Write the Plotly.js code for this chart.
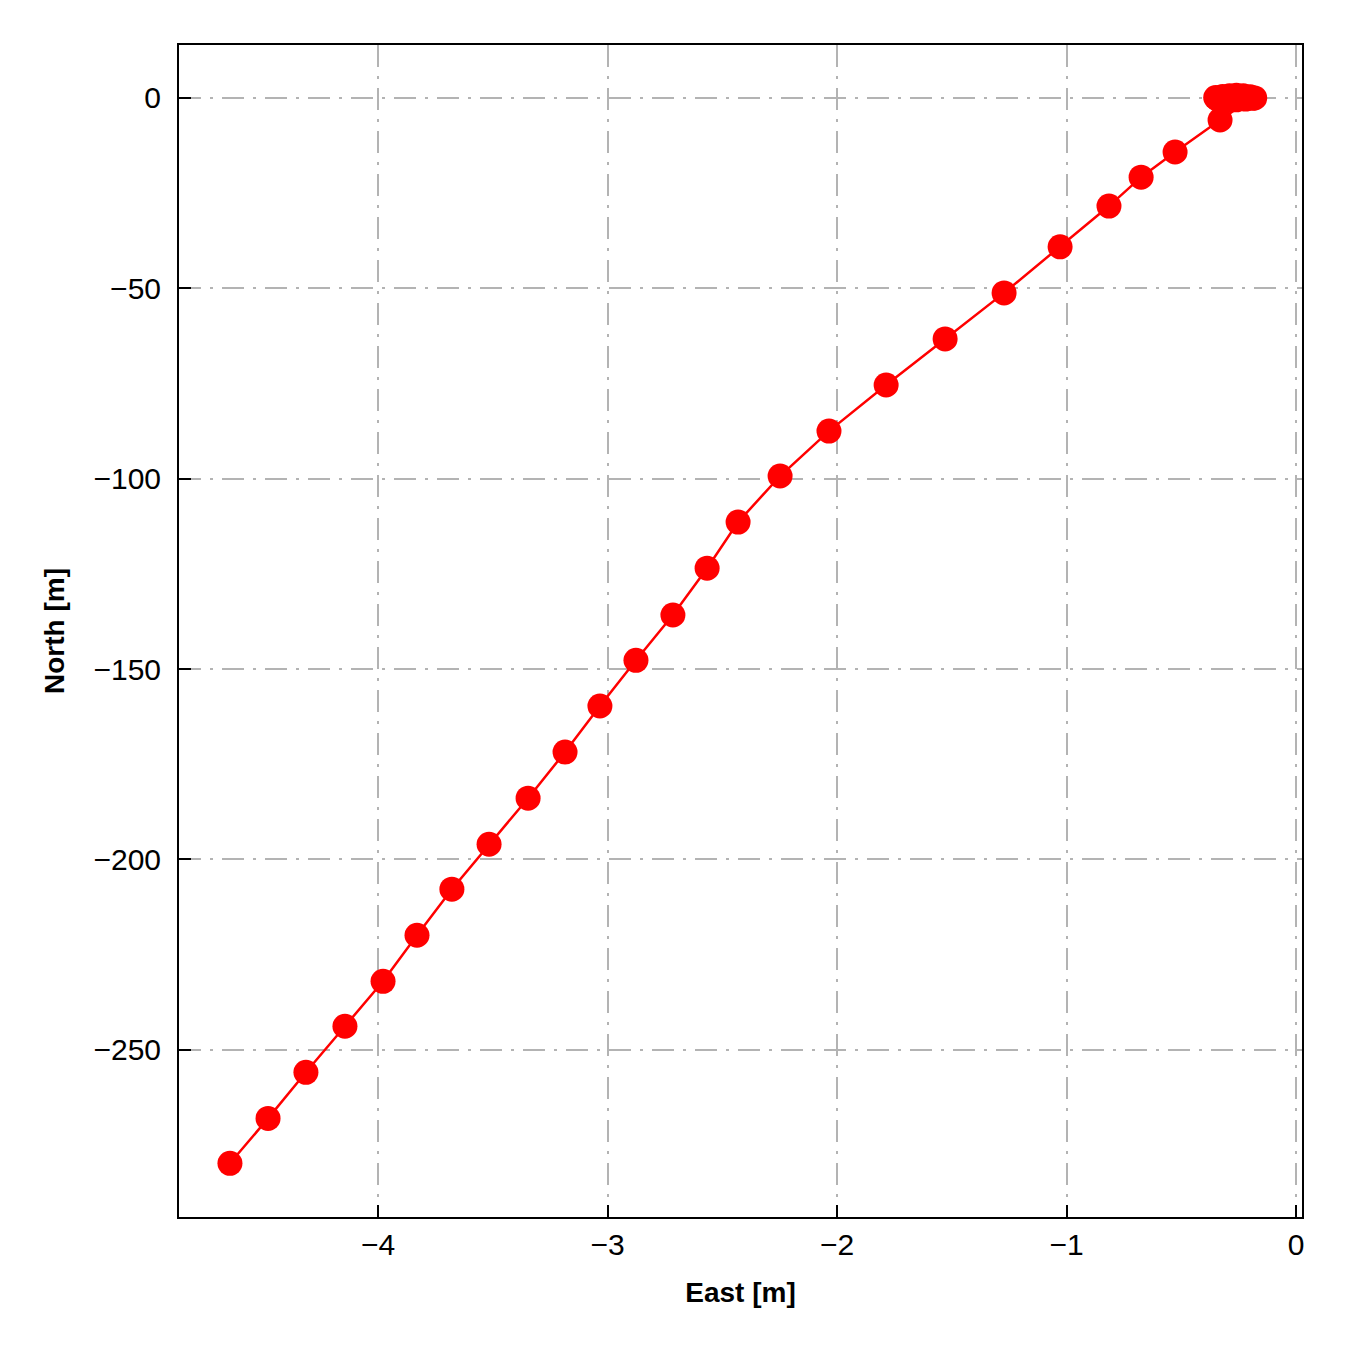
<!DOCTYPE html>
<html>
<head>
<meta charset="utf-8">
<script src="https://cdn.plot.ly/plotly-3.0.1.min.js"></script>
<style>html,body{margin:0;padding:0;background:#fff;}#plot{width:1350px;height:1350px;}</style>
</head>
<body>
<div id="plot"></div>
<script>
const east = [-0.18, -0.20, -0.23, -0.26, -0.29, -0.32, -0.35, -0.34, -0.30, -0.26, -0.22, -0.19,
  -0.331, -0.527, -0.675, -0.815, -1.028, -1.272, -1.529, -1.786, -2.035, -2.248, -2.431, -2.566,
  -2.715, -2.876, -3.033, -3.185, -3.346, -3.516, -3.678, -3.830, -3.978, -4.144, -4.314, -4.479, -4.645];
const north = [0.0, 0.3, 0.6, 0.7, 0.6, 0.4, 0.1, -0.4, -0.6, -0.5, -0.3, -0.1,
  -5.8, -14.2, -20.8, -28.4, -39.1, -51.2, -63.3, -75.4, -87.5, -99.3, -111.4, -123.5,
  -135.8, -147.7, -159.7, -171.8, -183.9, -196.0, -207.8, -219.9, -232.0, -243.8, -255.9, -268.0, -279.8];
const xTicks = [-4, -3, -2, -1, 0];
const yTicks = [0, -50, -100, -150, -200, -250];

const FONT = 'Liberation Sans, Arial, sans-serif';
const trace = {
  x: east, y: north, type: 'scatter', mode: 'lines+markers',
  line: {color: '#ff0000', width: 2.5},
  marker: {color: '#ff0000', size: 25},
  hoverinfo: 'skip'
};
const axisCommon = {
  showline: true, linecolor: '#000', linewidth: 2, mirror: true,
  ticks: 'inside', ticklen: 12, tickwidth: 2, tickcolor: '#000',
  showgrid: true, gridcolor: '#b3b3b3', gridwidth: 2, griddash: '22px,9px,3px,9px',
  zeroline: false,
  tickfont: {family: FONT, size: 30, color: '#000'}
};
const layout = {
  width: 1350, height: 1350,
  margin: {l: 179, r: 48, t: 45, b: 133},
  paper_bgcolor: '#fff', plot_bgcolor: '#fff',
  showlegend: false,
  xaxis: Object.assign({}, axisCommon, {
    range: [-4.867, 0.026], tickvals: xTicks, ticktext: xTicks.map(v => v < 0 ? '\u2212' + Math.abs(v) : String(v)),
    ticklabelstandoff: 0,
    title: {text: '<b>East [m]</b>', font: {family: FONT, size: 28, color: '#000'}, standoff: 22}
  }),
  yaxis: Object.assign({}, axisCommon, {
    range: [-293.9, 13.9], tickvals: yTicks, ticktext: yTicks.map(v => v < 0 ? '\u2212' + Math.abs(v) : String(v)),
    ticklabelstandoff: 10,
    title: {text: '<b>North [m]</b>', font: {family: FONT, size: 28, color: '#000'}, standoff: 21}
  })
};
Plotly.newPlot('plot', [trace], layout, {staticPlot: true});
</script>
</body>
</html>
